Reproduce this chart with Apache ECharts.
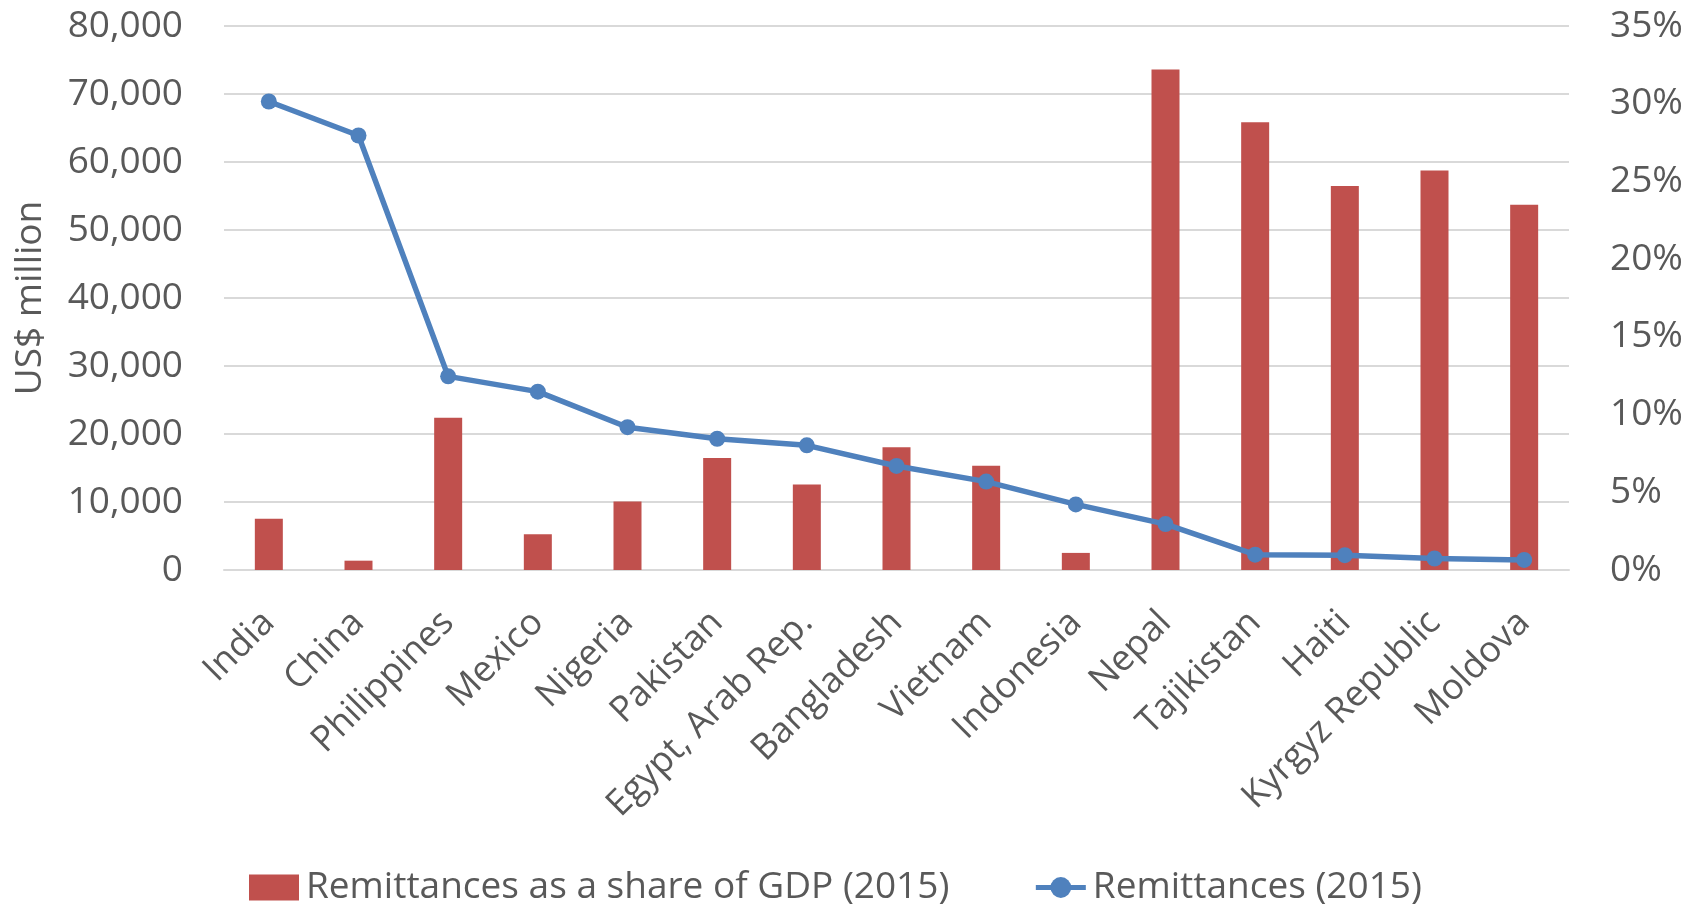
<!DOCTYPE html>
<html>
<head>
<meta charset="utf-8">
<title>Remittances 2015</title>
<script src="https://cdn.jsdelivr.net/npm/echarts@6/dist/echarts.min.js"></script>
<style>
  html, body { margin: 0; padding: 0; background: #ffffff; }
  #chart { width: 1702px; height: 911px; }
</style>
</head>
<body>
<div id="chart"></div>
<script>
// Top remittance recipients, 2015
const countries = ['India', 'China', 'Philippines', 'Mexico', 'Nigeria', 'Pakistan',
  'Egypt, Arab Rep.', 'Bangladesh', 'Vietnam', 'Indonesia', 'Nepal', 'Tajikistan',
  'Haiti', 'Kyrgyz Republic', 'Moldova'];

// Remittances received, US$ million (left axis)
const remittances = [68900, 63900, 28480, 26230, 21000, 19300, 18330, 15300, 13000,
  9650, 6750, 2260, 2180, 1690, 1480];

// Remittances as a share of GDP, percent (right axis)
const shareOfGdp = [3.3, 0.6, 9.8, 2.3, 4.4, 7.2, 5.5, 7.9, 6.7, 1.1, 32.2, 28.8,
  24.7, 25.7, 23.5];

const leftTicks = { min: 0, max: 80000, interval: 10000 };
const rightTicks = { min: 0, max: 35, interval: 5 };

const FONT = '"Open Sans", "Noto Sans", sans-serif';
const TEXT = '#595959';
const GRID = '#D9D9D9';
const BAR_RED = '#C0504D';
const LINE_BLUE = '#4F81BD';

const chart = echarts.init(document.getElementById('chart'), null, { renderer: 'canvas' });

chart.setOption({
  backgroundColor: '#ffffff',
  animation: false,
  textStyle: { fontFamily: FONT, color: TEXT },
  grid: {
    left: 224, right: 133, top: 26, bottom: 341,
    containLabel: false,
    outerBoundsMode: 'none'
  },
  legend: {
    bottom: 0,
    left: 244,
    itemGap: 84,
    itemWidth: 50,
    itemHeight: 26,
    textStyle: { fontFamily: FONT, fontSize: 37, color: TEXT, padding: [0, 0, 0, 2] },
    data: [
      { name: 'Remittances as a share of GDP (2015)', icon: 'rect' },
      {
        name: 'Remittances (2015)',
        lineStyle: { color: LINE_BLUE, width: 5 },
        itemStyle: { color: LINE_BLUE }
      }
    ]
  },
  xAxis: {
    type: 'category',
    data: countries,
    axisLine: { show: true, lineStyle: { color: GRID, width: 2 } },
    axisTick: { show: false },
    axisLabel: {
      rotate: 45,
      interval: 0,
      margin: 47,
      fontFamily: FONT,
      fontSize: 36,
      color: TEXT
    }
  },
  yAxis: [
    {
      type: 'value',
      min: leftTicks.min,
      max: leftTicks.max,
      interval: leftTicks.interval,
      name: 'US$ million',
      nameLocation: 'middle',
      nameGap: 175,
      nameTextStyle: { fontFamily: FONT, fontSize: 37, color: TEXT },
      axisLine: { show: false },
      axisTick: { show: false },
      splitLine: { show: true, lineStyle: { color: GRID, width: 2 } },
      axisLabel: {
        margin: 41,
        fontFamily: FONT,
        fontSize: 37,
        color: TEXT,
        formatter: v => v.toLocaleString('en-US')
      }
    },
    {
      type: 'value',
      min: rightTicks.min,
      max: rightTicks.max,
      interval: rightTicks.interval,
      position: 'right',
      axisLine: { show: false },
      axisTick: { show: false },
      splitLine: { show: false },
      axisLabel: {
        margin: 41,
        fontFamily: FONT,
        fontSize: 37,
        color: TEXT,
        formatter: '{value}%'
      }
    }
  ],
  series: [
    {
      name: 'Remittances as a share of GDP (2015)',
      type: 'bar',
      yAxisIndex: 1,
      data: shareOfGdp,
      barWidth: 28,
      itemStyle: { color: BAR_RED },
      z: 2
    },
    {
      name: 'Remittances (2015)',
      type: 'line',
      yAxisIndex: 0,
      data: remittances,
      symbol: 'circle',
      symbolSize: 16,
      lineStyle: { color: LINE_BLUE, width: 5.5 },
      itemStyle: { color: LINE_BLUE },
      z: 3
    }
  ]
});
</script>
</body>
</html>
